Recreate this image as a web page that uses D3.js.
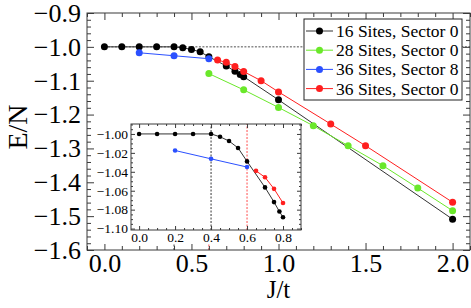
<!DOCTYPE html>
<html>
<head>
<meta charset="utf-8">
<script src="https://cdn.jsdelivr.net/npm/d3@7"></script>
<style>
  body { margin: 0; background: #fff; }
  svg { display: block; }
  svg text { font-family: "Liberation Serif", "Times New Roman", "DejaVu Serif", serif; }
</style>
</head>
<body>
<svg id="chart"></svg>
<script>
// E/N vs J/t
const j16 = [0, 0.1, 0.2, 0.3, 0.4, 0.45, 0.5, 0.55, 0.6, 0.7, 0.75, 0.78, 0.8, 1.0, 2.0];
const e16 = [-1.0, -1.0, -1.0, -1.0, -1.0, -1.003, -1.0075, -1.0148, -1.029, -1.0565, -1.072, -1.082, -1.088, -1.1565, -1.509];

const j28 = [0.6, 0.8, 1.0, 1.2, 1.4, 1.6, 1.8, 2.0];
const e28 = [-1.079, -1.127, -1.179, -1.233, -1.292, -1.351, -1.417, -1.484];

const j36s8 = [0.2, 0.4, 0.6];
const e36s8 = [-1.0175, -1.0263, -1.035];

const j36s0 = [0.65, 0.7, 0.75, 0.8, 0.9, 1.0, 1.3, 1.5, 2.0];
const e36s0 = [-1.039, -1.0458, -1.058, -1.073, -1.10, -1.133, -1.228, -1.292, -1.459];

const seriesNames = ["16 Sites, Sector 0", "28 Sites, Sector 0", "36 Sites, Sector 8", "36 Sites, Sector 0"];
const seriesColors = ["#000000", "#6ae82a", "#2b50ff", "#ff1f1f"];
const lineColors = ["#333333", "#6ae82a", "#2b50ff", "#ff1f1f"];

const xTicks = [0, 0.5, 1.0, 1.5, 2.0];
const yTicks = [-1.6, -1.5, -1.4, -1.3, -1.2, -1.1, -1.0, -0.9];
const insetXTicks = [0, 0.2, 0.4, 0.6, 0.8];
const insetYTicks = [-1.10, -1.08, -1.06, -1.04, -1.02, -1.00];
const guideJ = [0.4, 0.6];          // dashed verticals (black, red)
const guideColors = ["#000000", "#ff1f1f"];
const refE = -1.0;                  // dotted horizontal reference
const insetMaxJ = 0.8;

const W = 471, H = 308;
const frameColor = "#3a3a3a";

const svg = d3.select("#chart").attr("width", W).attr("height", H);

const series = seriesNames.map((name, i) => {
    const js = [j16, j28, j36s8, j36s0][i], es = [e16, e28, e36s8, e36s0][i];
    return { name, color: seriesColors[i], line: lineColors[i], pts: js.map((j, k) => [j, es[k]]) };
});

// frame with inward ticks on all four sides
function drawFrame(g, x, y, o) {
    const [xl, xr] = x.range(), [yb, yt] = y.range();
    const minorX = o.xMinor.filter(v => !o.xTicks.some(t => Math.abs(t - v) < 1e-9));
    const minorY = o.yMinor.filter(v => !o.yTicks.some(t => Math.abs(t - v) < 1e-9));
    const parts = [
        [d3.axisBottom, x, yb, "y", minorX, o.xTicks, o.fmtX, o.padX],
        [d3.axisTop, x, yt, "y", minorX, o.xTicks, null, 0],
        [d3.axisLeft, y, xl, "x", minorY, o.yTicks, o.fmtY, o.padY],
        [d3.axisRight, y, xr, "x", minorY, o.yTicks, null, 0]
    ];
    parts.forEach(([axis, sc, pos, dim, minors, majors, fmt, pad]) => {
        const tr = dim === "y" ? `translate(0,${pos})` : `translate(${pos},0)`;
        g.append("g").attr("transform", tr)
            .call(axis(sc).tickValues(minors).tickSize(-o.small).tickSizeOuter(0).tickFormat(""))
            .call(s => s.select(".domain").remove())
            .call(s => s.selectAll("line").attr("stroke", frameColor));
        g.append("g").attr("transform", tr)
            .call(axis(sc).tickValues(majors).tickSize(-o.big).tickSizeOuter(0)
                .tickPadding(pad).tickFormat(fmt ? fmt : ""))
            .attr("font-size", o.fontSize)
            .call(s => s.select(".domain").remove())
            .call(s => s.selectAll("line").attr("stroke", frameColor))
            .call(s => s.selectAll("text").attr("fill", "#000"));
    });
    g.append("rect")
        .attr("x", xl).attr("y", yt).attr("width", xr - xl).attr("height", yb - yt)
        .attr("fill", "none").attr("stroke", frameColor).attr("stroke-width", 1);
}

// ---- main plot ----
const x = d3.scaleLinear().domain([-0.1, 2.1]).range([87, 470]);
const y = d3.scaleLinear().domain([-1.6, -0.9]).range([250, 13]);

const main = svg.append("g");

main.append("line")
    .attr("x1", x(0)).attr("x2", x(2.1))
    .attr("y1", y(refE)).attr("y2", y(refE))
    .attr("stroke", "#222").attr("stroke-width", 0.8).attr("stroke-dasharray", "2,1.5");

guideJ.forEach((j, i) => {
    main.append("line")
        .attr("x1", x(j)).attr("x2", x(j))
        .attr("y1", y(-1.6)).attr("y2", y(-1.578))
        .attr("stroke", guideColors[i]).attr("stroke-width", 0.8)
        .attr("stroke-dasharray", "2,1.5");
});

const line = (xs, ys) => d3.line().x(d => xs(d[0])).y(d => ys(d[1]));

series.forEach(s => {
    main.append("path").datum(s.pts)
        .attr("d", line(x, y))
        .attr("fill", "none").attr("stroke", s.line).attr("stroke-width", 1);
    main.selectAll(null).data(s.pts).enter().append("circle")
        .attr("cx", d => x(d[0])).attr("cy", d => y(d[1]))
        .attr("r", 3.5).attr("fill", s.color);
});

drawFrame(main, x, y, {
    xTicks, yTicks,
    xMinor: d3.range(-0.1, 2.1001, 0.1).map(v => +v.toFixed(2)),
    yMinor: d3.range(-1.6, -0.8999, 0.02).map(v => +v.toFixed(3)),
    big: 7, small: 4, fontSize: 26, padX: 4, padY: 6,
    fmtX: d3.format(".1f"), fmtY: d3.format(".1f")
});

svg.append("text")
    .attr("transform", "translate(27,127) rotate(-90)")
    .attr("text-anchor", "middle").attr("font-size", 28)
    .text("E/N");

svg.append("text")
    .attr("x", 278.5).attr("y", 298)
    .attr("text-anchor", "middle").attr("font-size", 25)
    .text("J/t");

// ---- legend ----
const legend = svg.append("g");
legend.append("rect")
    .attr("x", 304).attr("y", 19).attr("width", 158).attr("height", 81)
    .attr("fill", "#fff").attr("stroke", "#222").attr("stroke-width", 1);

series.forEach((s, i) => {
    const cy = 31 + i * 19.2;
    legend.append("line")
        .attr("x1", 306).attr("x2", 333).attr("y1", cy).attr("y2", cy)
        .attr("stroke", s.line).attr("stroke-width", 1);
    legend.append("circle")
        .attr("cx", 319.5).attr("cy", cy).attr("r", 3.5).attr("fill", s.color);
    legend.append("text")
        .attr("x", 336).attr("y", cy + 6)
        .attr("font-size", 17.5)
        .text(s.name);
});

// ---- inset ----
const xi = d3.scaleLinear().domain([-0.045, 0.9]).range([131, 301]);
const yi = d3.scaleLinear().domain([-1.1015, -0.9895]).range([230, 124]);

const inset = svg.append("g");
inset.append("rect")
    .attr("x", 94).attr("y", 121).attr("width", 210).attr("height", 123)
    .attr("fill", "#fff");

guideJ.forEach((j, i) => {
    inset.append("line")
        .attr("x1", xi(j)).attr("x2", xi(j))
        .attr("y1", yi.range()[0]).attr("y2", yi.range()[1])
        .attr("stroke", guideColors[i]).attr("stroke-width", 0.8)
        .attr("stroke-dasharray", "2,1.5");
});

series.filter((s, i) => i !== 1).forEach(s => {
    const pts = s.pts.filter(d => d[0] <= insetMaxJ);
    inset.append("path").datum(pts)
        .attr("d", line(xi, yi))
        .attr("fill", "none").attr("stroke", s.line).attr("stroke-width", 1);
    inset.selectAll(null).data(pts).enter().append("circle")
        .attr("cx", d => xi(d[0])).attr("cy", d => yi(d[1]))
        .attr("r", 2.3).attr("fill", s.color);
});

drawFrame(inset, xi, yi, {
    xTicks: insetXTicks, yTicks: insetYTicks,
    xMinor: d3.range(0, 0.9001, 0.05).map(v => +v.toFixed(3)),
    yMinor: d3.range(-1.1, -0.9899, 0.005).map(v => +v.toFixed(4)),
    big: 4, small: 2, fontSize: 13.5, padX: 2, padY: 3,
    fmtX: d3.format(".1f"), fmtY: d3.format(".2f")
});
</script>
</body>
</html>
